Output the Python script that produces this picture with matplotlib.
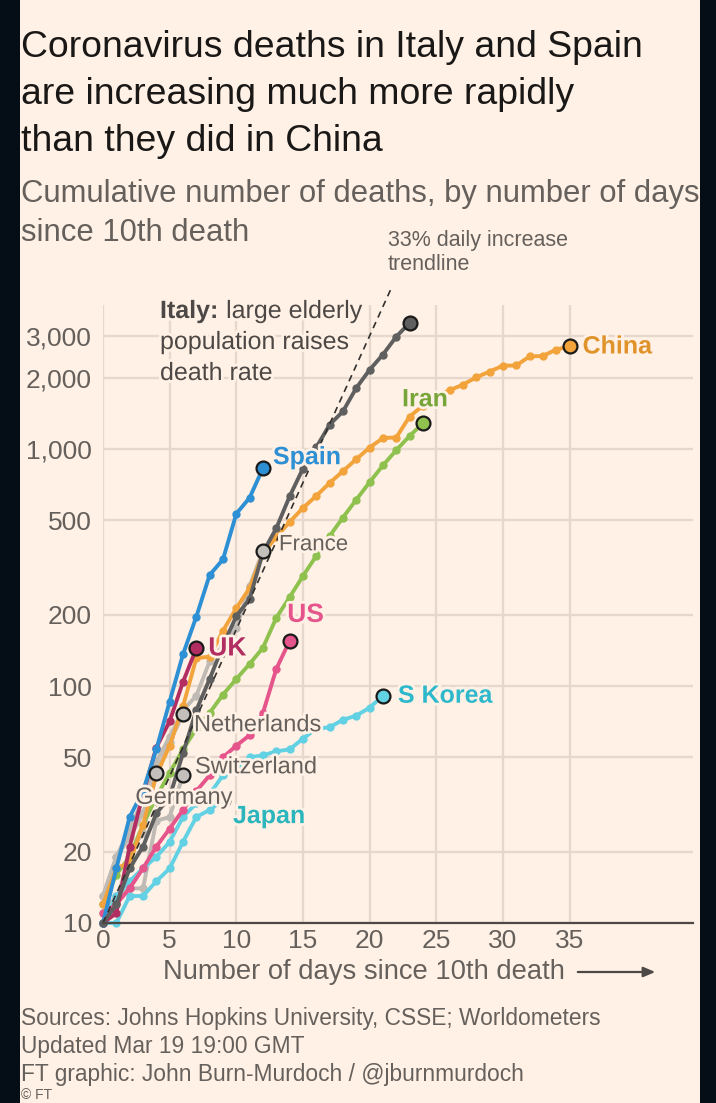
import matplotlib
matplotlib.use("Agg")
import matplotlib.pyplot as plt
import matplotlib.patheffects as pe
from matplotlib.patches import Rectangle
from matplotlib.ticker import FixedLocator, NullLocator

# ---------------- data (cumulative deaths, day 0 = 10th death) ----------------
italy = [10, 12, 17, 21, 29, 34, 52, 79, 107, 148, 197, 233, 366, 463, 631, 827,
         1016, 1266, 1441, 1809, 2158, 2503, 2978, 3405]
spain = [10, 17, 28, 36, 54, 86, 136, 196, 294, 342, 533, 623, 830]
china = [12, 17, 18, 26, 42, 56, 82, 131, 133, 171, 213, 259, 362, 426, 492, 564,
         634, 719, 806, 906, 1013, 1113, 1118, 1371, 1523, 1666, 1770, 1868, 2007,
         2122, 2247, 2251, 2458, 2469, 2629, 2708]
iran = [12, 16, 19, 26, 34, 43, 54, 66, 77, 92, 107, 124, 145, 194, 237, 291, 354,
        429, 514, 611, 724, 853, 988, 1135, 1284]
france = [13, 19, 25, 33, 48, 61, 79, 91, 127, 148, 175, 264, 372]
us = [11, 12, 14, 17, 21, 25, 30, 36, 42, 50, 56, 62, 77, 118, 155]
uk = [10, 11, 21, 35, 55, 71, 104, 144]
s_korea = [10, 13, 15, 17, 19, 22, 28, 32, 35, 42, 44, 50, 51, 53, 54, 60, 66, 67,
           72, 75, 81, 91]
japan = [10, 10, 13, 13, 15, 17, 22, 28, 30, 33]
netherlands = [10, 12, 20, 24, 43, 58, 76]
switzerland = [11, 13, 14, 14, 27, 28, 42]
germany = [13, 19, 23, 29, 43]

trend_start = 10
trend_rate = 0.33
trend_end_day = 21.7

y_ticks = [10, 20, 50, 100, 200, 500, 1000, 2000, 3000]
y_tick_labels = ["10", "20", "50", "100", "200", "500", "1,000", "2,000", "3,000"]
x_ticks = [0, 5, 10, 15, 20, 25, 30, 35]
x_tick_labels = ["0", "5", "10", "15", "20", "25", "30", "35"]

# ---------------- style ----------------
BG = "#fff1e5"
DARK = "#050e16"
GREYTXT = "#66605c"
GRID = "#e6d8cc"
FONT = "Liberation Sans"

W, H = 716, 1103
fig = plt.figure(figsize=(W / 100, H / 100), dpi=100, facecolor=BG)


def fx(x):
    return x / W


def fy(y):
    return 1 - y / H


ax_left, ax_right, ax_top, ax_bottom = 103, 693, 305, 923
ax = fig.add_axes([fx(ax_left), fy(ax_bottom), (ax_right - ax_left) / W,
                   (ax_bottom - ax_top) / H])
ax.set_facecolor(BG)
ax.set_yscale("log")
px_per_day = 13.33
ax.set_xlim(0, (ax_right - ax_left) / px_per_day)
decade = 237.0
ax.set_ylim(10, 10 ** (1 + (ax_bottom - ax_top) / decade))

for s in ["top", "right", "left"]:
    ax.spines[s].set_visible(False)
ax.spines["bottom"].set_color("#4d4845")
ax.spines["bottom"].set_linewidth(1.6)
ax.spines["bottom"].set_zorder(30)

ax.yaxis.set_major_locator(FixedLocator(y_ticks))
ax.yaxis.set_minor_locator(NullLocator())
ax.set_yticklabels(y_tick_labels)
ax.xaxis.set_major_locator(FixedLocator(x_ticks))
ax.set_xticklabels(x_tick_labels)
ax.tick_params(axis="both", length=0, labelsize=19, labelcolor=GREYTXT)
ax.tick_params(axis="y", pad=8)
ax.tick_params(axis="x", pad=4)
for lab in ax.get_xticklabels() + ax.get_yticklabels():
    lab.set_fontfamily(FONT)
ax.grid(True, color=GRID, linewidth=1.7, zorder=0)
ax.set_axisbelow(True)

halo = [pe.withStroke(linewidth=4, foreground=BG)]

LW = 2.8
MS = 5.0


def draw_series(vals, color, zorder, end_fc=None, end=True):
    days = list(range(len(vals)))
    ax.plot(days, vals, color=color, lw=LW, marker="o", ms=MS, mec=color,
            solid_capstyle="round", solid_joinstyle="round", zorder=zorder,
            clip_on=False)
    if end:
        ax.plot([days[-1]], [vals[-1]], marker="o", ms=10,
                mfc=end_fc if end_fc else color, mec="#1a1a1a", mew=1.6,
                zorder=zorder + 20, clip_on=False)
    return days[-1], vals[-1]


LGREY = "#c0bab4"
LGREY_END = "#c3bfbb"
draw_series(germany, LGREY, 3, LGREY_END)
draw_series(switzerland, LGREY, 3, LGREY_END)
draw_series(netherlands, LGREY, 3, LGREY_END)
draw_series(france, LGREY, 3, LGREY_END)
draw_series(japan, "#63d1e4", 4)
draw_series(s_korea, "#63d1e4", 4)
draw_series(us, "#e5558b", 5)
draw_series(iran, "#8fc14f", 5)
draw_series(china, "#f2a33c", 6)
draw_series(uk, "#b22e62", 7)
draw_series(spain, "#2d8fd4", 8)
draw_series(italy, "#5f5f5f", 9)

# 33% daily increase trendline
tx = [0, trend_end_day]
ty = [trend_start, trend_start * (1 + trend_rate) ** trend_end_day]
ax.plot(tx, ty, color="#33302e", lw=1.2, ls=(0, (4, 3)), zorder=15, clip_on=False)


# ---------------- series labels ----------------
def label(vals, text, dx, dy, color, weight="bold", size=18, ha="left"):
    ax.annotate(text, xy=(len(vals) - 1, vals[-1]), xytext=(dx, dy),
                textcoords="offset pixels", ha=ha, va="center", color=color,
                fontsize=size, fontweight=weight, fontfamily=FONT,
                path_effects=halo, zorder=40, annotation_clip=False)


label(china, "China", 13, 0, "#e0932a")
label(iran, "Iran", 2, 24, "#78a53a", ha="center")
label(spain, "Spain", 10, 11, "#2d8fd4")
label(france, "France", 16, 6, GREYTXT, weight="normal", size=16)
label(us, "US", 16, 26, "#e5558b", ha="center", size=19)
label(uk, "UK", 12, 0, "#b22e62", size=19)
label(netherlands, "Netherlands", 11, -11, GREYTXT, weight="normal", size=17)
label(switzerland, "Switzerland", 12, 8, GREYTXT, weight="normal", size=17)
label(germany, "Germany", -21, -25, GREYTXT, weight="normal", size=17)
label(japan, "Japan", 10, -16, "#2bb5bd")
label(s_korea, "S Korea", 15, 0, "#2db8cc")

# ---------------- annotations ----------------
fig.canvas.draw()
renderer = fig.canvas.get_renderer()

it_x, it_y = 160, 311
t1 = fig.text(fx(it_x), fy(it_y), "Italy:", ha="left", va="center", fontsize=18,
              fontweight="bold", color="#4d4845", fontfamily=FONT,
              path_effects=halo, zorder=50)
fig.canvas.draw()
bb = t1.get_window_extent(renderer)
fig.text(fx(it_x + bb.width + 1), fy(it_y), " large elderly", ha="left", va="center",
         fontsize=18, color="#4d4845", fontfamily=FONT, path_effects=halo, zorder=50)
fig.text(fx(it_x), fy(it_y + 31), "population raises", ha="left", va="center",
         fontsize=18, color="#4d4845", fontfamily=FONT, path_effects=halo, zorder=50)
fig.text(fx(it_x), fy(it_y + 62), "death rate", ha="left", va="center",
         fontsize=18, color="#4d4845", fontfamily=FONT, path_effects=halo, zorder=50)

fig.text(fx(388), fy(240), "33% daily increase", ha="left", va="center", fontsize=15.5,
         color=GREYTXT, fontfamily=FONT)
fig.text(fx(388), fy(265), "trendline", ha="left", va="center", fontsize=15.5,
         color=GREYTXT, fontfamily=FONT)


def fit(text_obj, target_w):
    fig.canvas.draw()
    w = text_obj.get_window_extent(renderer).width
    text_obj.set_fontsize(text_obj.get_fontsize() * target_w / w)


# ---------------- titles ----------------
title_lines = ["Coronavirus deaths in Italy and Spain",
               "are increasing much more rapidly",
               "than they did in China"]
tt = []
for i, line in enumerate(title_lines):
    tt.append(fig.text(fx(21), fy(57 + i * 47), line, ha="left", va="baseline",
                       fontsize=26, color="#1a1817", fontfamily=FONT))
fit(tt[0], 622)
for t in tt[1:]:
    t.set_fontsize(tt[0].get_fontsize())

st1 = fig.text(fx(21), fy(202), "Cumulative number of deaths, by number of days",
               ha="left", va="baseline", fontsize=22, color=GREYTXT, fontfamily=FONT)
fit(st1, 676)
fig.text(fx(21), fy(241), "since 10th death", ha="left", va="baseline",
         fontsize=st1.get_fontsize(), color=GREYTXT, fontfamily=FONT)

xl = fig.text(fx(163), fy(972), "Number of days since 10th death", ha="left",
              va="center", fontsize=19, color=GREYTXT, fontfamily=FONT)
fit(xl, 403)
ax.annotate("", xy=(fx(658), fy(972)), xytext=(fx(575), fy(972)),
            xycoords="figure fraction", textcoords="figure fraction",
            arrowprops=dict(arrowstyle="-|>,head_length=0.7,head_width=0.3",
                            color="#4d4845", lw=1.6))

foot = ["Sources: Johns Hopkins University, CSSE; Worldometers",
        "Updated Mar 19 19:00 GMT",
        "FT graphic: John Burn-Murdoch / @jburnmurdoch"]
ft = []
for i, line in enumerate(foot):
    ft.append(fig.text(fx(21), fy(1019 + i * 28), line, ha="left", va="center",
                       fontsize=15, color=GREYTXT, fontfamily=FONT))
fit(ft[0], 580)
for t in ft[1:]:
    t.set_fontsize(ft[0].get_fontsize())
fig.text(fx(21), fy(1102), "© FT", ha="left", va="bottom",
         fontsize=10, color=GREYTXT, fontfamily=FONT)

# dark phone-screen borders
fig.patches.append(Rectangle((0, 0), fx(20), 1, transform=fig.transFigure,
                             facecolor=DARK, edgecolor="none", zorder=100))
fig.patches.append(Rectangle((fx(700), 0), fx(16), 1, transform=fig.transFigure,
                             facecolor=DARK, edgecolor="none", zorder=100))

fig.savefig("out.png", dpi=100, facecolor=BG)
